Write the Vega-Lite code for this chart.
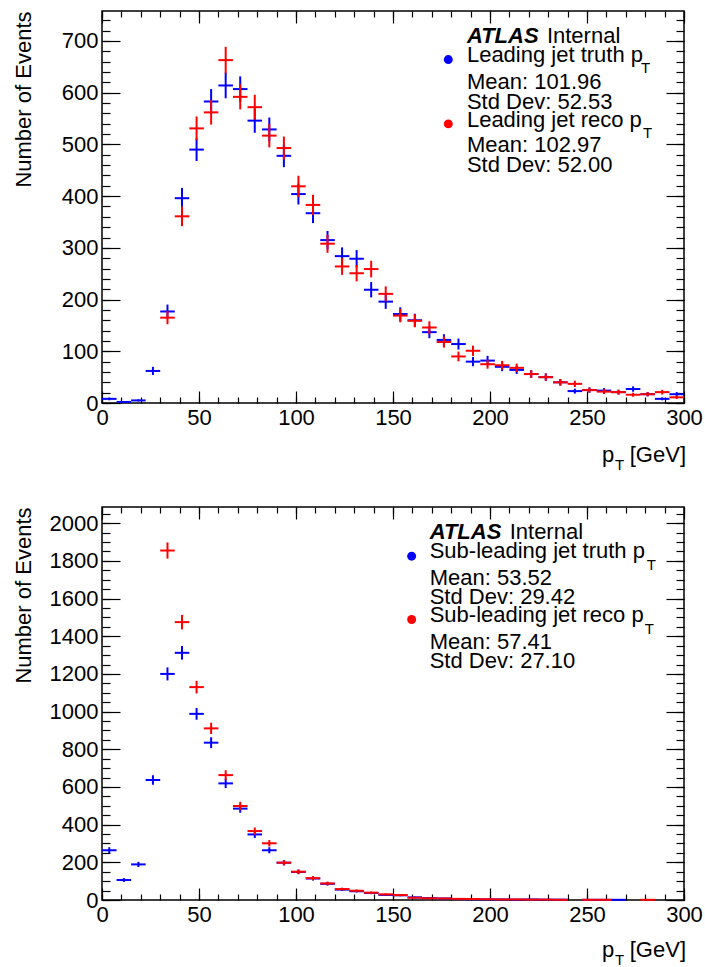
{
"$schema": "https://vega.github.io/schema/vega-lite/v6.json",
"padding": {"left": 11, "top": 9, "right": 2, "bottom": 2},
"spacing": 31,
"datasets": {
"lt": [{"c":3.75,"n":8,"e":2.8},{"c":11.25,"n":2,"e":1.4},{"c":18.75,"n":5,"e":2.2},{"c":26.25,"n":62,"e":7.9},{"c":33.75,"n":177,"e":13.3},{"c":41.25,"n":396,"e":19.9},{"c":48.75,"n":490,"e":22.1},{"c":56.25,"n":583,"e":24.1},{"c":63.75,"n":614,"e":24.8},{"c":71.25,"n":607,"e":24.6},{"c":78.75,"n":546,"e":23.4},{"c":86.25,"n":529,"e":23.0},{"c":93.75,"n":478,"e":21.9},{"c":101.25,"n":404,"e":20.1},{"c":108.75,"n":367,"e":19.2},{"c":116.25,"n":315,"e":17.7},{"c":123.75,"n":284,"e":16.9},{"c":131.25,"n":279,"e":16.7},{"c":138.75,"n":219,"e":14.8},{"c":146.25,"n":196,"e":14.0},{"c":153.75,"n":172,"e":13.1},{"c":161.25,"n":160,"e":12.6},{"c":168.75,"n":137,"e":11.7},{"c":176.25,"n":122,"e":11.0},{"c":183.75,"n":114,"e":10.7},{"c":191.25,"n":80,"e":8.9},{"c":198.75,"n":82,"e":9.1},{"c":206.25,"n":70,"e":8.4},{"c":213.75,"n":64,"e":8.0},{"c":221.25,"n":56,"e":7.5},{"c":228.75,"n":50,"e":7.1},{"c":236.25,"n":40,"e":6.3},{"c":243.75,"n":23,"e":4.8},{"c":251.25,"n":25,"e":5.0},{"c":258.75,"n":24,"e":4.9},{"c":266.25,"n":21,"e":4.6},{"c":273.75,"n":27,"e":5.2},{"c":281.25,"n":17,"e":4.1},{"c":288.75,"n":8,"e":2.8},{"c":296.25,"n":17,"e":4.1}],
"lr": [{"c":33.75,"n":165,"e":12.8},{"c":41.25,"n":361,"e":19.0},{"c":48.75,"n":531,"e":23.0},{"c":56.25,"n":562,"e":23.7},{"c":63.75,"n":663,"e":25.7},{"c":71.25,"n":592,"e":24.3},{"c":78.75,"n":572,"e":23.9},{"c":86.25,"n":517,"e":22.7},{"c":93.75,"n":493,"e":22.2},{"c":101.25,"n":419,"e":20.5},{"c":108.75,"n":383,"e":19.6},{"c":116.25,"n":308,"e":17.5},{"c":123.75,"n":264,"e":16.2},{"c":131.25,"n":251,"e":15.8},{"c":138.75,"n":259,"e":16.1},{"c":146.25,"n":211,"e":14.5},{"c":153.75,"n":169,"e":13.0},{"c":161.25,"n":159,"e":12.6},{"c":168.75,"n":146,"e":12.1},{"c":176.25,"n":118,"e":10.9},{"c":183.75,"n":90,"e":9.5},{"c":191.25,"n":101,"e":10.0},{"c":198.75,"n":75,"e":8.7},{"c":206.25,"n":73,"e":8.5},{"c":213.75,"n":68,"e":8.2},{"c":221.25,"n":56,"e":7.5},{"c":228.75,"n":50,"e":7.1},{"c":236.25,"n":40,"e":6.3},{"c":243.75,"n":37,"e":6.1},{"c":251.25,"n":25,"e":5.0},{"c":258.75,"n":22,"e":4.7},{"c":266.25,"n":21,"e":4.6},{"c":273.75,"n":16,"e":4.0},{"c":281.25,"n":17,"e":4.1},{"c":288.75,"n":21,"e":4.6},{"c":296.25,"n":11,"e":3.3}],
"st": [{"c":3.75,"n":264,"e":16.2},{"c":11.25,"n":106,"e":10.3},{"c":18.75,"n":189,"e":13.7},{"c":26.25,"n":637,"e":25.2},{"c":33.75,"n":1200,"e":34.6},{"c":41.25,"n":1312,"e":36.2},{"c":48.75,"n":988,"e":31.4},{"c":56.25,"n":835,"e":28.9},{"c":63.75,"n":619,"e":24.9},{"c":71.25,"n":485,"e":22.0},{"c":78.75,"n":348,"e":18.7},{"c":86.25,"n":264,"e":16.2},{"c":93.75,"n":198,"e":14.1},{"c":101.25,"n":149,"e":12.2},{"c":108.75,"n":114,"e":10.7},{"c":116.25,"n":86,"e":9.3},{"c":123.75,"n":55,"e":7.4},{"c":131.25,"n":47,"e":6.9},{"c":138.75,"n":37,"e":6.1},{"c":146.25,"n":27,"e":5.2},{"c":153.75,"n":25,"e":5.0},{"c":161.25,"n":14,"e":3.7},{"c":168.75,"n":10,"e":3.2},{"c":176.25,"n":8,"e":2.8},{"c":183.75,"n":5,"e":2.2},{"c":191.25,"n":4,"e":2.0},{"c":198.75,"n":3,"e":1.7},{"c":206.25,"n":3,"e":1.7},{"c":213.75,"n":2,"e":1.4},{"c":221.25,"n":3,"e":1.7},{"c":228.75,"n":2,"e":1.4},{"c":236.25,"n":2,"e":1.4},{"c":251.25,"n":1,"e":1.0},{"c":258.75,"n":1,"e":1.0},{"c":266.25,"n":1,"e":1.0}],
"sr": [{"c":33.75,"n":1855,"e":43.1},{"c":41.25,"n":1475,"e":38.4},{"c":48.75,"n":1130,"e":33.6},{"c":56.25,"n":911,"e":30.2},{"c":63.75,"n":663,"e":25.7},{"c":71.25,"n":499,"e":22.3},{"c":78.75,"n":366,"e":19.1},{"c":86.25,"n":301,"e":17.3},{"c":93.75,"n":198,"e":14.1},{"c":101.25,"n":150,"e":12.2},{"c":108.75,"n":116,"e":10.8},{"c":116.25,"n":88,"e":9.4},{"c":123.75,"n":58,"e":7.6},{"c":131.25,"n":49,"e":7.0},{"c":138.75,"n":39,"e":6.2},{"c":146.25,"n":30,"e":5.5},{"c":153.75,"n":26,"e":5.1},{"c":161.25,"n":12,"e":3.5},{"c":168.75,"n":9,"e":3.0},{"c":176.25,"n":8,"e":2.8},{"c":183.75,"n":6,"e":2.4},{"c":191.25,"n":5,"e":2.2},{"c":198.75,"n":4,"e":2.0},{"c":206.25,"n":3,"e":1.7},{"c":213.75,"n":3,"e":1.7},{"c":221.25,"n":2,"e":1.4},{"c":228.75,"n":2,"e":1.4},{"c":236.25,"n":1,"e":1.0},{"c":251.25,"n":1,"e":1.0},{"c":258.75,"n":1,"e":1.0},{"c":281.25,"n":1,"e":1.0}]
},
"vconcat": [
{
"width": 582, "height": 392,
"resolve": {"axis": {"x": "independent", "y": "independent"}},
"layer": [
{"data": {"name": "lt"}, "mark": {"type": "point", "opacity": 0},
 "encoding": {
  "x": {"field": "c", "type": "quantitative", "scale": {"domain": [0, 300], "nice": false, "zero": false},
        "axis": {"orient": "bottom", "offset": 0, "title": null, "ticks": false, "tickSize": 0, "values": [0,50,100,150,200,250,300]}},
  "y": {"field": "n", "type": "quantitative", "scale": {"domain": [0, 758], "nice": false},
        "axis": {"orient": "left", "offset": 0, "title": "Number of Events", "titleAnchor": "end", "titlePadding": 26, "format": "d", "ticks": false, "tickSize": 0,
                 "values": [0,100,200,300,400,500,600,700]}}
 }},
{"data": {"name": "lt"}, "mark": {"type": "point", "opacity": 0},
 "encoding": {
  "x": {"field": "c", "type": "quantitative", "scale": {"domain": [0, 300], "nice": false, "zero": false},
        "axis": {"orient": "top", "offset": -392, "title": null, "labels": false, "tickSize": 12, "values": [0,50,100,150,200,250,300]}},
  "y": {"field": "n", "type": "quantitative", "scale": {"domain": [0, 758], "nice": false},
        "axis": {"orient": "right", "offset": -582, "title": null, "labels": false, "tickSize": 18, "values": [0,100,200,300,400,500,600,700]}}
 }},
{"data": {"name": "lt"}, "mark": {"type": "point", "opacity": 0},
 "encoding": {
  "x": {"field": "c", "type": "quantitative", "scale": {"domain": [0, 300], "nice": false, "zero": false},
        "axis": {"orient": "top", "offset": -392, "title": null, "labels": false, "tickSize": 6, "values": [0,10,20,30,40,50,60,70,80,90,100,110,120,130,140,150,160,170,180,190,200,210,220,230,240,250,260,270,280,290,300]}},
  "y": {"field": "n", "type": "quantitative", "scale": {"domain": [0, 758], "nice": false},
        "axis": {"orient": "right", "offset": -582, "title": null, "labels": false, "tickSize": 8, "values": [0,20,40,60,80,100,120,140,160,180,200,220,240,260,280,300,320,340,360,380,400,420,440,460,480,500,520,540,560,580,600,620,640,660,680,700,720,740]}}
 }},
{"data": {"name": "lt"}, "mark": {"type": "point", "opacity": 0},
 "encoding": {
  "x": {"field": "c", "type": "quantitative", "scale": {"domain": [0, 300], "nice": false, "zero": false},
        "axis": {"orient": "bottom", "offset": -392, "title": null, "labels": false, "tickSize": 12, "values": [0,50,100,150,200,250,300]}},
  "y": {"field": "n", "type": "quantitative", "scale": {"domain": [0, 758], "nice": false},
        "axis": {"orient": "left", "offset": -582, "title": null, "labels": false, "tickSize": 18, "values": [0,100,200,300,400,500,600,700]}}
 }},
{"data": {"name": "lt"}, "mark": {"type": "point", "opacity": 0},
 "encoding": {
  "x": {"field": "c", "type": "quantitative", "scale": {"domain": [0, 300], "nice": false, "zero": false},
        "axis": {"orient": "bottom", "offset": -392, "title": null, "labels": false, "tickSize": 6, "values": [0,10,20,30,40,50,60,70,80,90,100,110,120,130,140,150,160,170,180,190,200,210,220,230,240,250,260,270,280,290,300]}},
  "y": {"field": "n", "type": "quantitative", "scale": {"domain": [0, 758], "nice": false},
        "axis": {"orient": "left", "offset": -582, "title": null, "labels": false, "tickSize": 8, "values": [0,20,40,60,80,100,120,140,160,180,200,220,240,260,280,300,320,340,360,380,400,420,440,460,480,500,520,540,560,580,600,620,640,660,680,700,720,740]}}
 }},
{"data": {"name": "lt"}, "mark": {"type": "tick", "orient": "horizontal", "color": "#0000ff", "size": 14.55, "thickness": 2, "opacity": 1},
 "encoding": {"x": {"field": "c", "type": "quantitative", "scale": {"domain": [0, 300], "nice": false, "zero": false}, "axis": null},
  "y": {"field": "n", "type": "quantitative", "scale": {"domain": [0, 758], "nice": false}, "axis": null}}},
{"data": {"name": "lt"}, "mark": {"type": "errorbar", "color": "#0000ff", "thickness": 2},
 "encoding": {"x": {"field": "c", "type": "quantitative", "scale": {"domain": [0, 300], "nice": false, "zero": false}, "axis": null},
  "y": {"field": "n", "type": "quantitative", "scale": {"domain": [0, 758], "nice": false}, "axis": null},
  "yError": {"field": "e"}}},
{"data": {"name": "lr"}, "mark": {"type": "tick", "orient": "horizontal", "color": "#ff0000", "size": 14.55, "thickness": 2, "opacity": 1},
 "encoding": {"x": {"field": "c", "type": "quantitative", "scale": {"domain": [0, 300], "nice": false, "zero": false}, "axis": null},
  "y": {"field": "n", "type": "quantitative", "scale": {"domain": [0, 758], "nice": false}, "axis": null}}},
{"data": {"name": "lr"}, "mark": {"type": "errorbar", "color": "#ff0000", "thickness": 2},
 "encoding": {"x": {"field": "c", "type": "quantitative", "scale": {"domain": [0, 300], "nice": false, "zero": false}, "axis": null},
  "y": {"field": "n", "type": "quantitative", "scale": {"domain": [0, 758], "nice": false}, "axis": null},
  "yError": {"field": "e"}}},
{"data": {"values": [{}]}, "mark": {"type": "text", "text": "ATLAS", "fontSize": 22, "fontWeight": "bold", "fontStyle": "italic", "align": "left", "baseline": "alphabetic", "color": "#000"},
 "encoding": {"x": {"datum": 188.1, "type": "quantitative", "axis": null}, "y": {"datum": 695.7, "type": "quantitative", "axis": null}}},
{"data": {"values": [{}]}, "mark": {"type": "text", "text": "Internal", "fontSize": 22, "dx": 80, "align": "left", "baseline": "alphabetic", "color": "#000"},
 "encoding": {"x": {"datum": 188.1, "type": "quantitative", "axis": null}, "y": {"datum": 695.7, "type": "quantitative", "axis": null}}},
{"data": {"values": [{}]}, "mark": {"type": "text", "text": "Leading jet truth p", "fontSize": 22, "align": "left", "baseline": "alphabetic", "color": "#000"},
 "encoding": {"x": {"datum": 188.1, "type": "quantitative", "axis": null}, "y": {"datum": 659.0, "type": "quantitative", "axis": null}}},
{"data": {"values": [{}]}, "mark": {"type": "text", "text": "T", "fontSize": 15, "dx": 174, "align": "left", "baseline": "alphabetic", "color": "#000"},
 "encoding": {"x": {"datum": 188.1, "type": "quantitative", "axis": null}, "y": {"datum": 637.7, "type": "quantitative", "axis": null}}},
{"data": {"values": [{}]}, "mark": {"type": "text", "text": ["Mean: 101.96", "Std Dev: 52.53"], "lineHeight": 20, "fontSize": 22, "align": "left", "baseline": "alphabetic", "color": "#000"},
 "encoding": {"x": {"datum": 188.1, "type": "quantitative", "axis": null}, "y": {"datum": 607.4, "type": "quantitative", "axis": null}}},
{"data": {"values": [{}]}, "mark": {"type": "text", "text": "Leading jet reco p", "fontSize": 22, "align": "left", "baseline": "alphabetic", "color": "#000"},
 "encoding": {"x": {"datum": 188.1, "type": "quantitative", "axis": null}, "y": {"datum": 533.3, "type": "quantitative", "axis": null}}},
{"data": {"values": [{}]}, "mark": {"type": "text", "text": "T", "fontSize": 15, "dx": 176, "align": "left", "baseline": "alphabetic", "color": "#000"},
 "encoding": {"x": {"datum": 188.1, "type": "quantitative", "axis": null}, "y": {"datum": 512.0, "type": "quantitative", "axis": null}}},
{"data": {"values": [{}]}, "mark": {"type": "text", "text": ["Mean: 102.97", "Std Dev: 52.00"], "lineHeight": 20, "fontSize": 22, "align": "left", "baseline": "alphabetic", "color": "#000"},
 "encoding": {"x": {"datum": 188.1, "type": "quantitative", "axis": null}, "y": {"datum": 484.9, "type": "quantitative", "axis": null}}},
{"data": {"values": [{}]}, "mark": {"type": "point", "filled": true, "opacity": 1, "size": 80, "color": "#0000ff"},
 "encoding": {"x": {"datum": 178.5, "type": "quantitative", "axis": null}, "y": {"datum": 664.1, "type": "quantitative", "axis": null}}},
{"data": {"values": [{}]}, "mark": {"type": "point", "filled": true, "opacity": 1, "size": 80, "color": "#ff0000"},
 "encoding": {"x": {"datum": 178.5, "type": "quantitative", "axis": null}, "y": {"datum": 539.7, "type": "quantitative", "axis": null}}},
{"data": {"values": [{}]}, "mark": {"type": "text", "text": "p", "fontSize": 22, "align": "left", "baseline": "alphabetic", "color": "#000"},
 "encoding": {"x": {"datum": 257.7, "type": "quantitative", "axis": null}, "y": {"datum": -114.1, "type": "quantitative", "axis": null}}},
{"data": {"values": [{}]}, "mark": {"type": "text", "text": "T", "fontSize": 15, "dx": 13, "align": "left", "baseline": "alphabetic", "color": "#000"},
 "encoding": {"x": {"datum": 257.7, "type": "quantitative", "axis": null}, "y": {"datum": -129.6, "type": "quantitative", "axis": null}}},
{"data": {"values": [{}]}, "mark": {"type": "text", "text": "[GeV]", "fontSize": 22, "dx": 2, "align": "right", "baseline": "alphabetic", "color": "#000"},
 "encoding": {"x": {"datum": 300, "type": "quantitative", "axis": null}, "y": {"datum": -114.1, "type": "quantitative", "axis": null}}}
]
},
{
"width": 582, "height": 393,
"resolve": {"axis": {"x": "independent", "y": "independent"}},
"layer": [
{"data": {"name": "st"}, "mark": {"type": "point", "opacity": 0},
 "encoding": {
  "x": {"field": "c", "type": "quantitative", "scale": {"domain": [0, 300], "nice": false, "zero": false},
        "axis": {"orient": "bottom", "offset": 0, "title": null, "ticks": false, "tickSize": 0, "values": [0,50,100,150,200,250,300]}},
  "y": {"field": "n", "type": "quantitative", "scale": {"domain": [0, 2086], "nice": false},
        "axis": {"orient": "left", "offset": 0, "title": "Number of Events", "titleAnchor": "end", "titlePadding": 14, "format": "d", "ticks": false, "tickSize": 0,
                 "values": [0,200,400,600,800,1000,1200,1400,1600,1800,2000]}}
 }},
{"data": {"name": "st"}, "mark": {"type": "point", "opacity": 0},
 "encoding": {
  "x": {"field": "c", "type": "quantitative", "scale": {"domain": [0, 300], "nice": false, "zero": false},
        "axis": {"orient": "top", "offset": -393, "title": null, "labels": false, "tickSize": 12, "values": [0,50,100,150,200,250,300]}},
  "y": {"field": "n", "type": "quantitative", "scale": {"domain": [0, 2086], "nice": false},
        "axis": {"orient": "right", "offset": -582, "title": null, "labels": false, "tickSize": 18, "values": [0,200,400,600,800,1000,1200,1400,1600,1800,2000]}}
 }},
{"data": {"name": "st"}, "mark": {"type": "point", "opacity": 0},
 "encoding": {
  "x": {"field": "c", "type": "quantitative", "scale": {"domain": [0, 300], "nice": false, "zero": false},
        "axis": {"orient": "top", "offset": -393, "title": null, "labels": false, "tickSize": 6, "values": [0,10,20,30,40,50,60,70,80,90,100,110,120,130,140,150,160,170,180,190,200,210,220,230,240,250,260,270,280,290,300]}},
  "y": {"field": "n", "type": "quantitative", "scale": {"domain": [0, 2086], "nice": false},
        "axis": {"orient": "right", "offset": -582, "title": null, "labels": false, "tickSize": 8, "values": [0,50,100,150,200,250,300,350,400,450,500,550,600,650,700,750,800,850,900,950,1000,1050,1100,1150,1200,1250,1300,1350,1400,1450,1500,1550,1600,1650,1700,1750,1800,1850,1900,1950,2000,2050]}}
 }},
{"data": {"name": "st"}, "mark": {"type": "point", "opacity": 0},
 "encoding": {
  "x": {"field": "c", "type": "quantitative", "scale": {"domain": [0, 300], "nice": false, "zero": false},
        "axis": {"orient": "bottom", "offset": -393, "title": null, "labels": false, "tickSize": 12, "values": [0,50,100,150,200,250,300]}},
  "y": {"field": "n", "type": "quantitative", "scale": {"domain": [0, 2086], "nice": false},
        "axis": {"orient": "left", "offset": -582, "title": null, "labels": false, "tickSize": 18, "values": [0,200,400,600,800,1000,1200,1400,1600,1800,2000]}}
 }},
{"data": {"name": "st"}, "mark": {"type": "point", "opacity": 0},
 "encoding": {
  "x": {"field": "c", "type": "quantitative", "scale": {"domain": [0, 300], "nice": false, "zero": false},
        "axis": {"orient": "bottom", "offset": -393, "title": null, "labels": false, "tickSize": 6, "values": [0,10,20,30,40,50,60,70,80,90,100,110,120,130,140,150,160,170,180,190,200,210,220,230,240,250,260,270,280,290,300]}},
  "y": {"field": "n", "type": "quantitative", "scale": {"domain": [0, 2086], "nice": false},
        "axis": {"orient": "left", "offset": -582, "title": null, "labels": false, "tickSize": 8, "values": [0,50,100,150,200,250,300,350,400,450,500,550,600,650,700,750,800,850,900,950,1000,1050,1100,1150,1200,1250,1300,1350,1400,1450,1500,1550,1600,1650,1700,1750,1800,1850,1900,1950,2000,2050]}}
 }},
{"data": {"name": "st"}, "mark": {"type": "tick", "orient": "horizontal", "color": "#0000ff", "size": 14.55, "thickness": 2, "opacity": 1},
 "encoding": {"x": {"field": "c", "type": "quantitative", "scale": {"domain": [0, 300], "nice": false, "zero": false}, "axis": null},
  "y": {"field": "n", "type": "quantitative", "scale": {"domain": [0, 2086], "nice": false}, "axis": null}}},
{"data": {"name": "st"}, "mark": {"type": "errorbar", "color": "#0000ff", "thickness": 2},
 "encoding": {"x": {"field": "c", "type": "quantitative", "scale": {"domain": [0, 300], "nice": false, "zero": false}, "axis": null},
  "y": {"field": "n", "type": "quantitative", "scale": {"domain": [0, 2086], "nice": false}, "axis": null},
  "yError": {"field": "e"}}},
{"data": {"name": "sr"}, "mark": {"type": "tick", "orient": "horizontal", "color": "#ff0000", "size": 14.55, "thickness": 2, "opacity": 1},
 "encoding": {"x": {"field": "c", "type": "quantitative", "scale": {"domain": [0, 300], "nice": false, "zero": false}, "axis": null},
  "y": {"field": "n", "type": "quantitative", "scale": {"domain": [0, 2086], "nice": false}, "axis": null}}},
{"data": {"name": "sr"}, "mark": {"type": "errorbar", "color": "#ff0000", "thickness": 2},
 "encoding": {"x": {"field": "c", "type": "quantitative", "scale": {"domain": [0, 300], "nice": false, "zero": false}, "axis": null},
  "y": {"field": "n", "type": "quantitative", "scale": {"domain": [0, 2086], "nice": false}, "axis": null},
  "yError": {"field": "e"}}},
{"data": {"values": [{}]}, "mark": {"type": "text", "text": "ATLAS", "fontSize": 22, "fontWeight": "bold", "fontStyle": "italic", "align": "left", "baseline": "alphabetic", "color": "#000"},
 "encoding": {"x": {"datum": 168.9, "type": "quantitative", "axis": null}, "y": {"datum": 1913.5, "type": "quantitative", "axis": null}}},
{"data": {"values": [{}]}, "mark": {"type": "text", "text": "Internal", "fontSize": 22, "dx": 80, "align": "left", "baseline": "alphabetic", "color": "#000"},
 "encoding": {"x": {"datum": 168.9, "type": "quantitative", "axis": null}, "y": {"datum": 1913.5, "type": "quantitative", "axis": null}}},
{"data": {"values": [{}]}, "mark": {"type": "text", "text": "Sub-leading jet truth p", "fontSize": 22, "align": "left", "baseline": "alphabetic", "color": "#000"},
 "encoding": {"x": {"datum": 168.9, "type": "quantitative", "axis": null}, "y": {"datum": 1816, "type": "quantitative", "axis": null}}},
{"data": {"values": [{}]}, "mark": {"type": "text", "text": "T", "fontSize": 15, "dx": 217, "align": "left", "baseline": "alphabetic", "color": "#000"},
 "encoding": {"x": {"datum": 168.9, "type": "quantitative", "axis": null}, "y": {"datum": 1749, "type": "quantitative", "axis": null}}},
{"data": {"values": [{}]}, "mark": {"type": "text", "text": ["Mean: 53.52", "Std Dev: 29.42"], "lineHeight": 19.3, "fontSize": 22, "align": "left", "baseline": "alphabetic", "color": "#000"},
 "encoding": {"x": {"datum": 168.9, "type": "quantitative", "axis": null}, "y": {"datum": 1671, "type": "quantitative", "axis": null}}},
{"data": {"values": [{}]}, "mark": {"type": "text", "text": "Sub-leading jet reco p", "fontSize": 22, "align": "left", "baseline": "alphabetic", "color": "#000"},
 "encoding": {"x": {"datum": 168.9, "type": "quantitative", "axis": null}, "y": {"datum": 1476.4, "type": "quantitative", "axis": null}}},
{"data": {"values": [{}]}, "mark": {"type": "text", "text": "T", "fontSize": 15, "dx": 215, "align": "left", "baseline": "alphabetic", "color": "#000"},
 "encoding": {"x": {"datum": 168.9, "type": "quantitative", "axis": null}, "y": {"datum": 1409.5, "type": "quantitative", "axis": null}}},
{"data": {"values": [{}]}, "mark": {"type": "text", "text": ["Mean: 57.41", "Std Dev: 27.10"], "lineHeight": 19, "fontSize": 22, "align": "left", "baseline": "alphabetic", "color": "#000"},
 "encoding": {"x": {"datum": 168.9, "type": "quantitative", "axis": null}, "y": {"datum": 1333, "type": "quantitative", "axis": null}}},
{"data": {"values": [{}]}, "mark": {"type": "point", "filled": true, "opacity": 1, "size": 80, "color": "#0000ff"},
 "encoding": {"x": {"datum": 159.6, "type": "quantitative", "axis": null}, "y": {"datum": 1825, "type": "quantitative", "axis": null}}},
{"data": {"values": [{}]}, "mark": {"type": "point", "filled": true, "opacity": 1, "size": 80, "color": "#ff0000"},
 "encoding": {"x": {"datum": 159.6, "type": "quantitative", "axis": null}, "y": {"datum": 1489, "type": "quantitative", "axis": null}}},
{"data": {"values": [{}]}, "mark": {"type": "text", "text": "p", "fontSize": 22, "align": "left", "baseline": "alphabetic", "color": "#000"},
 "encoding": {"x": {"datum": 257.7, "type": "quantitative", "axis": null}, "y": {"datum": -302.4, "type": "quantitative", "axis": null}}},
{"data": {"values": [{}]}, "mark": {"type": "text", "text": "T", "fontSize": 15, "dx": 13, "align": "left", "baseline": "alphabetic", "color": "#000"},
 "encoding": {"x": {"datum": 257.7, "type": "quantitative", "axis": null}, "y": {"datum": -344.8, "type": "quantitative", "axis": null}}},
{"data": {"values": [{}]}, "mark": {"type": "text", "text": "[GeV]", "fontSize": 22, "dx": 2, "align": "right", "baseline": "alphabetic", "color": "#000"},
 "encoding": {"x": {"datum": 300, "type": "quantitative", "axis": null}, "y": {"datum": -302.4, "type": "quantitative", "axis": null}}}
]
}
],
"config": {
 "font": "Liberation Sans",
 "background": "#ffffff",
 "view": {"stroke": "#000", "strokeWidth": 1.5},
 "axis": {"labelFont": "Liberation Sans", "labelFontSize": 22, "labelColor": "#000", "titleFont": "Liberation Sans", "titleFontSize": 22, "titleFontWeight": "normal", "titleColor": "#000", "tickColor": "#000", "tickWidth": 1.2, "tickOpacity": 1, "zindex": 1, "domain": false, "grid": false, "labelOverlap": false, "labelFlush": false, "labelPadding": 4},
 "text": {"font": "Liberation Sans"}
}
}
